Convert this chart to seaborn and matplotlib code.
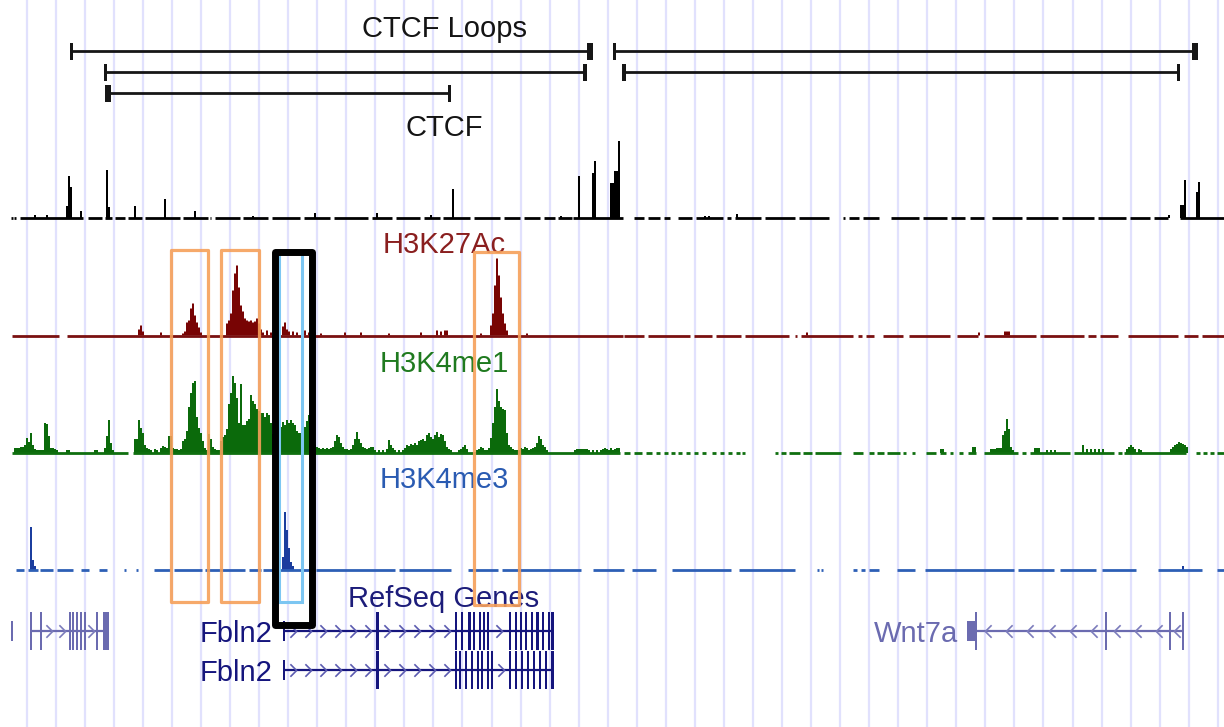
import numpy as np
import pandas as pd
import matplotlib
matplotlib.use("Agg")
import matplotlib.pyplot as plt
from matplotlib.patches import Rectangle
import seaborn as sns

# ------------------------------------------------------------------
# DATA  (genomic position expressed in browser-window units 0..1224)
# ------------------------------------------------------------------
loop_start = [71, 105, 108, 614, 624]
loop_end = [590, 585, 449, 1195, 1178]
loop_row = [0, 1, 2, 0, 1]
loop_start_w = [3, 3, 6, 3, 4]
loop_end_w = [6, 4, 3, 6, 3]

ctcf_peaks = [(34, 3), (46, 3), (66, 12), (68, 42), (70, 31), (80, 7), (106, 48), (108, 11),
              (134, 12), (164, 19), (194, 7), (252, 2), (314, 5), (376, 5), (430, 3), (452, 29),
              (561, 2), (578, 42), (592, 45), (594, 57), (610, 35), (612, 35), (614, 47),
              (616, 47), (618, 77), (704, 2), (708, 2), (736, 4), (1168, 3), (1180, 13),
              (1182, 13), (1184, 38), (1196, 26), (1198, 36)]
ctcf_cov = [(11, 13), (14, 16), (20, 83), (88, 102), (105, 112), (115, 125), (128, 142),
            (145, 180), (183, 208), (210, 211), (215, 240), (243, 268), (272, 300), (304, 330),
            (334, 368), (372, 392), (396, 420), (424, 440), (443, 470), (474, 500), (504, 520),
            (524, 540), (544, 555), (558, 572), (573, 623), (634, 644), (648, 660), (664, 670),
            (678, 692), (696, 723), (727, 731), (735, 761), (765, 795), (799, 829), (843, 845),
            (849, 859), (863, 879), (891, 919), (923, 947), (951, 965), (970, 984), (992, 1022),
            (1026, 1058), (1062, 1094), (1098, 1126), (1130, 1150), (1154, 1168), (1180, 1224)]

k27_peaks = [(138, 6), (140, 10), (142, 4), (160, 3),
             (182, 2), (184, 4), (186, 13), (188, 15), (190, 27), (192, 32), (194, 20), (196, 13),
             (198, 8), (200, 3),
             (226, 12), (228, 15), (230, 22), (232, 45), (234, 62), (236, 70), (238, 48), (240, 30),
             (242, 24), (244, 17), (246, 15), (248, 14), (250, 15), (252, 13), (254, 14), (256, 17),
             (258, 12), (260, 6), (262, 3),
             (266, 5), (270, 3), (282, 9), (284, 13), (286, 6), (288, 4), (292, 4), (296, 3),
             (304, 5), (308, 3), (314, 3), (320, 2), (344, 3), (360, 3), (388, 2), (420, 3),
             (436, 5), (440, 4), (444, 5), (446, 5), (480, 2),
             (491, 10), (493, 22), (495, 50), (497, 77), (499, 60), (501, 38), (503, 22), (505, 12),
             (507, 5), (526, 2), (806, 3), (978, 3), (1004, 4), (1006, 4), (1008, 4)]
k27_cov = [(12, 59), (67, 623), (624, 644), (648, 690), (694, 712), (716, 741), (745, 789),
           (795, 797), (801, 853), (858, 862), (866, 874), (883, 903), (909, 950), (957, 978),
           (984, 1036), (1040, 1084), (1088, 1096), (1100, 1118), (1128, 1178), (1184, 1198),
           (1202, 1224)]

me1_peaks = [(14, 5), (16, 5), (18, 5), (20, 6), (22, 6), (24, 8), (26, 15), (28, 11), (30, 20),
             (32, 8), (34, 4), (36, 3), (38, 3), (40, 3), (42, 3), (44, 30), (46, 29), (48, 17),
             (50, 5), (52, 5), (54, 4), (56, 3), (66, 3), (68, 3), (94, 3), (96, 3), (104, 5),
             (106, 17), (108, 33), (110, 10), (112, 3), (134, 14), (136, 14), (138, 33), (140, 25),
             (142, 20), (144, 8), (146, 5), (148, 4), (150, 3), (154, 4), (156, 3), (160, 5),
             (162, 7), (164, 6), (166, 5), (168, 17), (170, 17), (172, 5), (174, 4), (176, 4),
             (178, 3), (180, 4), (182, 12), (184, 14), (186, 22), (188, 46), (190, 60), (192, 70),
             (194, 72), (196, 36), (198, 25), (200, 20), (202, 12), (204, 5), (206, 3), (208, 19),
             (210, 14), (212, 6), (214, 4), (216, 3), (218, 3), (220, 12), (222, 16), (224, 18),
             (226, 24), (228, 49), (230, 60), (232, 77), (234, 70), (236, 55), (238, 30), (240, 69),
             (242, 28), (244, 28), (246, 32), (248, 34), (250, 58), (252, 52), (254, 49), (256, 44),
             (258, 42), (260, 40), (262, 40), (264, 36), (266, 40), (268, 38), (270, 30), (272, 19),
             (274, 19), (276, 22), (278, 28), (280, 26), (282, 31), (284, 28), (286, 33), (288, 30),
             (290, 33), (292, 30), (294, 28), (296, 22), (298, 20), (300, 20), (302, 24), (304, 26),
             (306, 32), (308, 38), (310, 30), (312, 12), (314, 8), (316, 6), (318, 5), (320, 4),
             (322, 5), (324, 4), (326, 5), (328, 4), (330, 5), (332, 6), (334, 12), (336, 18),
             (338, 16), (340, 10), (342, 6), (344, 4), (346, 4), (348, 3), (350, 4), (352, 8),
             (354, 14), (356, 21), (358, 14), (360, 10), (362, 6), (364, 5), (366, 4), (368, 5),
             (370, 6), (372, 6), (374, 3), (378, 3), (382, 3), (386, 4), (388, 13), (390, 8),
             (392, 5), (394, 3), (398, 3), (402, 3), (404, 5), (406, 8), (408, 7), (410, 9),
             (412, 8), (414, 10), (416, 8), (418, 12), (420, 13), (422, 14), (424, 12), (426, 18),
             (428, 20), (430, 16), (432, 14), (434, 18), (436, 21), (438, 16), (440, 19), (442, 18),
             (444, 12), (446, 6), (448, 4), (450, 3), (458, 3), (460, 4), (462, 6), (464, 8),
             (466, 4), (476, 3), (478, 4), (480, 6), (482, 5), (484, 3), (486, 3), (488, 5),
             (490, 15), (492, 30), (494, 46), (496, 64), (498, 52), (500, 46), (502, 44), (504, 43),
             (506, 20), (508, 8), (510, 6), (512, 4), (514, 3), (516, 3), (518, 3), (520, 5),
             (522, 4), (524, 6), (526, 5), (528, 3), (530, 4), (532, 5), (534, 6), (536, 10),
             (538, 17), (540, 14), (542, 8), (544, 6), (546, 3), (574, 3), (576, 4), (578, 4),
             (580, 4), (582, 4), (584, 4), (586, 4), (588, 3), (592, 3), (596, 3), (600, 3),
             (602, 4), (604, 5), (606, 4), (608, 3), (610, 5), (612, 3), (614, 4), (616, 5),
             (618, 5), (940, 4), (942, 4), (972, 6), (974, 6), (990, 4), (992, 4), (994, 4),
             (996, 5), (998, 5), (1000, 5), (1002, 18), (1004, 22), (1006, 34), (1008, 24),
             (1010, 6), (1012, 3), (1034, 5), (1036, 5), (1038, 5), (1046, 3), (1050, 3),
             (1054, 3), (1082, 8), (1086, 4), (1090, 4), (1094, 4), (1098, 4), (1102, 4),
             (1126, 4), (1128, 6), (1130, 8), (1132, 6), (1134, 4), (1138, 4), (1140, 3),
             (1170, 4), (1172, 6), (1174, 8), (1176, 9), (1178, 11), (1180, 10), (1182, 9),
             (1184, 8), (1186, 6)]
me1_cov = [(12, 128), (133, 620), (624, 630), (634, 642), (646, 652), (656, 660), (664, 668),
           (671, 675), (678, 682), (686, 690), (694, 698), (702, 706), (712, 716), (720, 724),
           (728, 732), (736, 740), (742, 745), (775, 778), (781, 786), (789, 800), (803, 812),
           (815, 841), (853, 863), (869, 874), (877, 884), (887, 900), (903, 906), (912, 915),
           (926, 936), (940, 946), (950, 953), (959, 963), (968, 976), (984, 1018), (1022, 1026),
           (1030, 1070), (1074, 1114), (1118, 1122), (1124, 1186), (1196, 1200), (1203, 1207),
           (1210, 1214), (1217, 1224)]

me3_peaks = [(30, 43), (32, 10), (34, 4), (282, 13), (284, 58), (286, 40), (288, 22),
             (290, 8), (292, 4), (1182, 4)]
me3_cov = [(16, 24), (28, 38), (40, 53), (57, 73), (81, 89), (99, 107), (124, 126), (136, 138),
           (154, 170), (174, 202), (205, 245), (249, 261), (263, 312), (316, 395), (399, 451),
           (468, 498), (502, 581), (593, 624), (632, 656), (672, 731), (739, 795), (817, 819),
           (821, 823), (853, 857), (861, 865), (869, 879), (897, 915), (925, 1014), (1018, 1054),
           (1060, 1096), (1102, 1136), (1158, 1202), (1217, 1224)]

gene_name = ["", "", "Fbln2", "Fbln2", "Wnt7a"]
gene_span = [(11, 13), (31, 109), (284, 554), (284, 554), (969, 1183)]
gene_strand = ["+", "+", "+", "+", "-"]
gene_row = [0, 0, 0, 1, 0]
gene_utr = [[(11, 13)], [], [(283, 285)], [(283, 285)], [(967, 976)]]
gene_cds = [[],
            [(30, 32), (40, 42), (69, 71), (72, 74), (76, 78), (80, 82), (84, 86), (96, 98), (103, 109)],
            [(376, 379), (455, 457), (461, 463), (468, 471), (473, 475), (479, 481), (483, 485),
             (487, 489), (509, 511), (515, 517), (520, 522), (525, 527), (531, 533), (536, 539),
             (542, 544), (548, 550), (551, 554)],
            [(376, 379), (455, 457), (459, 461), (465, 467), (471, 473), (477, 479), (481, 483),
             (487, 489), (491, 493), (509, 511), (515, 517), (521, 523), (527, 529), (533, 535),
             (539, 541), (545, 547), (551, 554)],
            [(975, 977), (1105, 1107), (1169, 1171), (1182, 1184)]]

hl_x0 = [171, 221, 474]
hl_x1 = [208, 259, 519]
hl_y0 = [249.5, 249.5, 251.5]
hl_y1 = [602, 602, 605]

track_labels = ["CTCF Loops", "CTCF", "H3K27Ac", "H3K4me1", "H3K4me3", "RefSeq Genes"]

# ------------------------------------------------------------------
# STYLE / LAYOUT
# ------------------------------------------------------------------
W, H = 1224, 727
sns.set_theme(style="white")
plt.rcParams['font.family'] = ['Liberation Sans', 'DejaVu Sans']
FS = 21

label_colors = ["#141414", "#141414", "#8a1f1f", "#1f7a1f", "#2a5bb2", "#1c1c7a"]
label_base = [37, 136, 253, 372, 488, 607]
label_x = 444

fig = plt.figure(figsize=(12.24, 7.27), dpi=100, facecolor="white")
bg = fig.add_axes([0, 0, 1, 1])
bg.set_xlim(0, W)
bg.set_ylim(H, 0)
bg.axis("off")

# browser grid lines
for gx in np.arange(26.7, W, 29.05):
    bg.axvline(gx, color="#e1e1fd", lw=1.6, zorder=0)

# labels
for txt, col, yb in zip(track_labels, label_colors, label_base):
    bg.text(label_x, yb, txt, color=col, fontsize=FS, ha="center", va="baseline", zorder=3)

# CTCF loops
row_y = [51, 72, 93]
tick_h = 17
for s, e, r, sw, ew in zip(loop_start, loop_end, loop_row, loop_start_w, loop_end_w):
    y = row_y[r]
    bg.hlines(y, s, e, color="#161616", lw=2.0, zorder=3)
    bg.add_patch(Rectangle((s - sw / 2, y - tick_h / 2), sw, tick_h, color="#161616", lw=0, zorder=3))
    bg.add_patch(Rectangle((e - ew / 2, y - tick_h / 2), ew, tick_h, color="#161616", lw=0, zorder=3))


# signal tracks
def track_axes(base_y, top):
    ax = fig.add_axes([0, (H - base_y - 3) / H, 1, (top + 3) / H])
    ax.patch.set_alpha(0)
    return ax


tracks = [
    (ctcf_peaks, ctcf_cov, 218, 82, "#000000", "#000000"),
    (k27_peaks, k27_cov, 335.5, 82, "#780404", "#7a1010"),
    (me1_peaks, me1_cov, 453, 82, "#0b6a0b", "#0f6f0f"),
    (me3_peaks, me3_cov, 570, 62, "#1b3d9e", "#2d5fb6"),
]
for peaks, cov, base, top, col, bcol in tracks:
    ax = track_axes(base, top)
    df = pd.DataFrame(peaks, columns=["pos", "signal"])
    sns.histplot(data=df, x="pos", weights="signal", binwidth=2, binrange=(0, W),
                 element="step", fill=True, color=col, alpha=1, linewidth=0, ax=ax)
    ax.hlines([0] * len(cov), [c[0] for c in cov], [c[1] for c in cov], color=bcol, lw=2.0)
    ax.set_xlim(0, W)
    ax.set_ylim(-3, top)
    ax.axis("off")

# genes
gene_row_y = [631, 670]
gene_col = {"": "#6b6bb0", "Fbln2": "#15157d", "Wnt7a": "#6b6bb0"}
chev_col = {"": "#7c7cbc", "Fbln2": "#5c5cb0", "Wnt7a": "#7c7cbc"}
cds_h, utr_h = 38, 20
gx_ax = fig.add_axes([0, 0, 1, 1])
gx_ax.set_xlim(0, W)
gx_ax.set_ylim(H, 0)
gx_ax.axis("off")
gx_ax.patch.set_alpha(0)
for name, (gs, ge), strand, row, utrs, cdss in zip(gene_name, gene_span, gene_strand,
                                                    gene_row, gene_utr, gene_cds):
    y = gene_row_y[row]
    c = gene_col[name]
    gx_ax.hlines(y, gs, ge, color=c, lw=1.6, zorder=4)
    for s, e in utrs:
        gx_ax.add_patch(Rectangle((s, y - utr_h / 2), max(e - s, 2), utr_h, color=c, lw=0, zorder=4))
    for s, e in cdss:
        gx_ax.add_patch(Rectangle((s, y - cds_h / 2), max(e - s, 2), cds_h, color=c, lw=0, zorder=4))
    # intron chevrons, evenly spread inside each intron
    blocks = sorted(utrs + cdss)
    spacing = 20 if strand == "-" else 15.5
    pts = sorted(set([gs, ge] + [v for b in blocks for v in b]))
    cx = []
    for a, b in zip(pts[:-1], pts[1:]):
        if any(s <= a and b <= e for s, e in blocks):
            continue
        L = b - a
        if L < 9:
            continue
        n = max(1, int(round(L / spacing)))
        cx += [a + (i + 0.5) * L / n for i in range(n)]
    if cx:
        if strand == "+":
            verts = [(-0.5, 1), (0.5, 0), (-0.5, -1)]
        else:
            verts = [(0.5, 1), (-0.5, 0), (0.5, -1)]
        gx_ax.plot(cx, [y] * len(cx), linestyle="none", marker=verts, ms=9,
                   mfc="none", mec=chev_col[name], mew=1.2, zorder=5)
    if name:
        gx_ax.text(gs - 11, y + 11, name, color=c, fontsize=FS, ha="right", va="baseline", zorder=5)

# highlight boxes
fg = fig.add_axes([0, 0, 1, 1])
fg.set_xlim(0, W)
fg.set_ylim(H, 0)
fg.axis("off")
fg.patch.set_alpha(0)
for x0, x1, y0, y1 in zip(hl_x0, hl_x1, hl_y0, hl_y1):
    fg.add_patch(Rectangle((x0, y0), x1 - x0, y1 - y0, fill=False, ec="#f6a05a", lw=2.3,
                           alpha=0.9, joinstyle="round", zorder=6))
# light-blue region (promoter) and black focus box
fg.add_patch(Rectangle((279, 251.5), 302 - 279, 602 - 251.5, fill=False, ec="#7cc6f2",
                       lw=2.2, zorder=7))
fg.add_patch(Rectangle((275, 251.5), 312 - 275, 625 - 251.5, fill=False, ec="#000000",
                       lw=5.0, joinstyle="round", zorder=8))

fig.savefig("out.png", dpi=100, facecolor="white")
